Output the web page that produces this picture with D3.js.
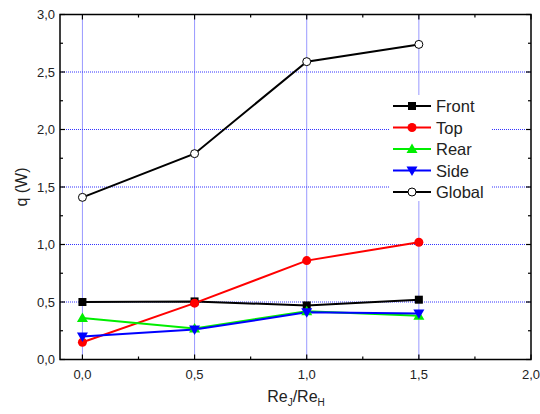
<!DOCTYPE html>
<html>
<head>
<meta charset="utf-8">
<script src="https://cdn.jsdelivr.net/npm/d3@7"></script>
<style>
  body { margin: 0; background: white; }
  text { font-family: Arial, "Liberation Sans", sans-serif; fill: #222; }
</style>
</head>
<body>
<div id="chart"></div>
<script>
// data
const ratios = [0.0, 0.5, 1.0, 1.5];
const front  = [0.50, 0.505, 0.47, 0.52];
const top_   = [0.15, 0.49, 0.86, 1.02];
const rear   = [0.36, 0.27, 0.42, 0.38];
const side   = [0.20, 0.26, 0.41, 0.40];
const global = [1.41, 1.79, 2.59, 2.74];
const xTicks = [0.0, 0.5, 1.0, 1.5, 2.0];
const yTicks = [0.0, 0.5, 1.0, 1.5, 2.0, 2.5, 3.0];

const series = [
  { name: "Front",  values: front,  color: "black", symbol: "square" },
  { name: "Top",    values: top_,   color: "red",   symbol: "circle" },
  { name: "Rear",   values: rear,   color: "#00ee00", symbol: "up" },
  { name: "Side",   values: side,   color: "blue",  symbol: "down" },
  { name: "Global", values: global, color: "black", symbol: "open" }
];

let width = 540, height = 414;
let margin = { top: 14.5, bottom: 54.5, left: 60, right: 9 };

let svg = d3.select('#chart')
  .append('svg')
  .attr('width', width)
  .attr('height', height)
  .style('background', 'white');

let x = d3.scaleLinear()
  .domain([-0.1, 2.0])
  .range([margin.left, width - margin.right]);

let y = d3.scaleLinear()
  .domain([0, 3])
  .range([height - margin.bottom, margin.top]);

const fmt = d => d3.format(".1f")(d).replace(".", ",");

// grid lines
svg.append('g')
  .selectAll('line')
  .data(ratios)
  .enter().append('line')
    .attr('x1', d => x(d)).attr('x2', d => x(d))
    .attr('y1', y(0)).attr('y2', y(3))
    .attr('stroke', '#3333ff')
    .attr('stroke-width', 1)
    .attr('stroke-dasharray', '1,1');

svg.append('g')
  .selectAll('line')
  .data(yTicks.filter(d => d > 0 && d < 3))
  .enter().append('line')
    .attr('x1', x(-0.1)).attr('x2', x(2.0))
    .attr('y1', d => y(d)).attr('y2', d => y(d))
    .attr('stroke', '#3333ff')
    .attr('stroke-width', 1)
    .attr('stroke-dasharray', '1,1');

// axes: ticks inward on all four sides
const xMinor = d3.range(0, 2.01, 0.25);
const yMinor = d3.range(0.25, 3, 0.5);

function axisBox() {
  let g = svg.append('g');
  g.append('rect')
    .attr('x', x(-0.1)).attr('y', y(3))
    .attr('width', x(2.0) - x(-0.1))
    .attr('height', y(0) - y(3))
    .attr('fill', 'none')
    .attr('stroke', 'black')
    .attr('stroke-width', 1.5);

  xMinor.forEach(v => {
    let len = (Math.abs(v * 2 - Math.round(v * 2)) < 1e-6) ? 5 : 3;
    g.append('line').attr('x1', x(v)).attr('x2', x(v))
      .attr('y1', y(0)).attr('y2', y(0) - len).attr('stroke', 'black').attr('stroke-width', 1.2);
    g.append('line').attr('x1', x(v)).attr('x2', x(v))
      .attr('y1', y(3)).attr('y2', y(3) + len).attr('stroke', 'black').attr('stroke-width', 1.2);
  });
  yTicks.concat(yMinor).forEach(v => {
    let len = yTicks.includes(v) ? 5 : 3;
    g.append('line').attr('x1', x(-0.1)).attr('x2', x(-0.1) + len)
      .attr('y1', y(v)).attr('y2', y(v)).attr('stroke', 'black').attr('stroke-width', 1.2);
    g.append('line').attr('x1', x(2.0)).attr('x2', x(2.0) - len)
      .attr('y1', y(v)).attr('y2', y(v)).attr('stroke', 'black').attr('stroke-width', 1.2);
  });

  g.selectAll('.xl').data(xTicks).enter().append('text')
    .attr('x', d => x(d)).attr('y', y(0) + 19)
    .attr('text-anchor', 'middle')
    .style('font-size', '13px')
    .text(fmt);

  g.selectAll('.yl').data(yTicks).enter().append('text')
    .attr('x', x(-0.1) - 5).attr('y', d => y(d) + 4.5)
    .attr('text-anchor', 'end')
    .style('font-size', '13px')
    .text(fmt);
}
axisBox();

// axis labels
svg.append('text')
  .attr('transform', `translate(27,${(y(0) + y(3)) / 2}) rotate(-90)`)
  .attr('text-anchor', 'middle')
  .style('font-size', '16px')
  .text('q (W)');

let xl = svg.append('text')
  .attr('x', 296).attr('y', 402)
  .attr('text-anchor', 'middle')
  .style('font-size', '16px');
xl.append('tspan').text('Re');
xl.append('tspan').attr('dy', 4).style('font-size', '10px').text('J');
xl.append('tspan').attr('dy', -4).text('/Re');
xl.append('tspan').attr('dy', 4).style('font-size', '10px').text('H');

// markers
function drawMarker(g, cx, cy, s) {
  if (s.symbol === 'square') {
    g.append('rect').attr('x', cx - 4).attr('y', cy - 4).attr('width', 8).attr('height', 8).attr('fill', s.color);
  } else if (s.symbol === 'circle') {
    g.append('circle').attr('cx', cx).attr('cy', cy).attr('r', 4.5).attr('fill', s.color);
  } else if (s.symbol === 'up') {
    g.append('path').attr('d', `M${cx},${cy - 5.5}L${cx + 5.5},${cy + 4}L${cx - 5.5},${cy + 4}Z`).attr('fill', s.color);
  } else if (s.symbol === 'down') {
    g.append('path').attr('d', `M${cx},${cy + 5.5}L${cx + 5.5},${cy - 4}L${cx - 5.5},${cy - 4}Z`).attr('fill', s.color);
  } else {
    g.append('circle').attr('cx', cx).attr('cy', cy).attr('r', 4).attr('fill', 'white')
      .attr('stroke', 'black').attr('stroke-width', 1);
  }
}

let line = d3.line()
  .x((d, i) => x(ratios[i]))
  .y(d => y(d));

series.forEach(s => {
  svg.append('path')
    .datum(s.values)
    .attr('d', line)
    .attr('fill', 'none')
    .attr('stroke', s.color)
    .attr('stroke-width', 2);
});
series.forEach(s => {
  let g = svg.append('g');
  s.values.forEach((v, i) => drawMarker(g, x(ratios[i]), y(v), s));
});

// legend
const legend = svg.append('g').attr('transform', 'translate(390,95)');
legend.append('rect')
  .attr('x', 0).attr('y', 0).attr('width', 102).attr('height', 106)
  .attr('fill', 'white');
series.forEach((s, i) => {
  let ly = 11 + i * 21.5;
  legend.append('line')
    .attr('x1', 3).attr('x2', 41).attr('y1', ly).attr('y2', ly)
    .attr('stroke', s.color).attr('stroke-width', 2);
  drawMarker(legend, 22, ly, s);
  legend.append('text')
    .attr('x', 46).attr('y', ly + 6)
    .style('font-size', '16.5px')
    .text(s.name);
});
</script>
</body>
</html>
